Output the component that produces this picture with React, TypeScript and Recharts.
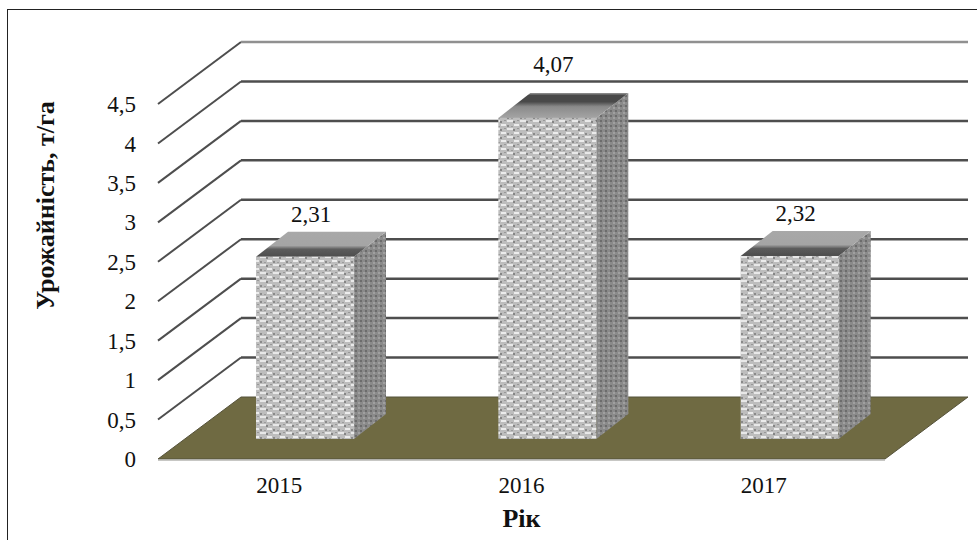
import { BarChart, Bar, XAxis, YAxis, ReferenceLine, LabelList } from "recharts";

const years = ["2015", "2016", "2017"];
const yields = [2.31, 4.07, 2.32];
const yTicks = [0, 0.5, 1, 1.5, 2, 2.5, 3, 3.5, 4, 4.5];

const chartData = years.map((year, i) => ({ year, value: yields[i] }));

const SERIF = "'Liberation Serif', 'Times New Roman', serif";

// depth of the fake 3D room and of the bars
const WALL_DX = 83;
const WALL_DY = 62;
const BAR_DX = 32;
const BAR_DY = 25;
const BAR_SHIFT_X = 26;
const BAR_SHIFT_Y = 20;

const comma = (v: number) => String(v).replace(".", ",");

function GridLine(props: any) {
  const { x1, y1, x2, stroke } = props;
  const bx = x1 + WALL_DX;
  const by = y1 - WALL_DY;
  return (
    <g>
      <line x1={x1} y1={y1} x2={bx} y2={by} stroke="#4e4e4e" strokeWidth={2} />
      <line x1={bx} y1={by} x2={x2 + WALL_DX} y2={by} stroke={stroke} strokeWidth={2.5} />
    </g>
  );
}

function Floor(props: any) {
  const { x1, y1, x2 } = props;
  const by = y1 - WALL_DY;
  return (
    <g>
      <polygon
        points={`${x1},${y1} ${x1 + WALL_DX},${by} ${x2 + WALL_DX},${by} ${x2},${y1}`}
        fill="#6f6a42"
        stroke="#55523a"
        strokeWidth={1}
      />
      <line x1={x1} y1={y1 + 1} x2={x2} y2={y1 + 1} stroke="#b5b5b0" strokeWidth={1.5} />
    </g>
  );
}

function Bar3D(props: any) {
  const { x, y, width, height, index } = props;
  const l = x + BAR_SHIFT_X;
  const r = l + width;
  const t = y - BAR_SHIFT_Y;
  const b = t + height;
  const topFill = index === 1 ? "url(#topDarkBack)" : "url(#topDarkFront)";
  return (
    <g filter="url(#soften)">
      <polygon
        points={`${r},${t} ${r + BAR_DX},${t - BAR_DY} ${r + BAR_DX},${b - BAR_DY} ${r},${b}`}
        fill="url(#sideWeave)"
      />
      <polygon
        points={`${l},${t} ${l + BAR_DX},${t - BAR_DY} ${r + BAR_DX},${t - BAR_DY} ${r},${t}`}
        fill={topFill}
      />
      <rect x={l} y={t} width={width} height={height} fill="url(#frontWeave)" />
    </g>
  );
}

function ValueLabel(props: any) {
  const { x, y, width, value, index } = props;
  const lift = index === 1 ? 66 : 55;
  return (
    <text
      x={x + width / 2 + 32}
      y={y - lift}
      textAnchor="middle"
      fontFamily={SERIF}
      fontSize={23}
      fill="#111"
    >
      {comma(value)}
    </text>
  );
}

export default function App() {
  return (
    <div style={{ position: "absolute", left: 0, top: 0, width: 977, height: 540, background: "#fff", overflow: "hidden" }}>
      <div
        style={{
          position: "absolute",
          left: 7,
          top: 9,
          right: 0,
          bottom: 0,
          borderLeft: "1.5px solid #222",
          borderTop: "1.5px solid #222",
        }}
      />
      <div style={{ position: "absolute", left: 0, top: 0 }}>
        <BarChart
          width={977}
          height={540}
          data={chartData}
          margin={{ top: 104, right: 92, bottom: 0, left: 0 }}
        >
          <defs>
            <filter id="soften" x="-5%" y="-5%" width="110%" height="110%">
              <feGaussianBlur stdDeviation="0.7" />
            </filter>
            <pattern id="frontWeave" width="13" height="8" patternUnits="userSpaceOnUse">
              <rect width="13" height="8" fill="#bdbdbd" />
              <rect x="0" y="0" width="6" height="2" fill="#e8e8e8" />
              <rect x="7" y="4" width="5" height="2" fill="#ececec" />
              <rect x="6" y="1" width="2" height="2" fill="#858585" />
              <rect x="0" y="5" width="2" height="2" fill="#8a8a8a" />
              <rect x="10" y="0" width="2" height="1" fill="#989898" />
              <rect x="4" y="6" width="2" height="1" fill="#9c9c9c" />
            </pattern>
            <pattern id="sideWeave" width="5" height="5" patternUnits="userSpaceOnUse">
              <rect width="5" height="5" fill="#8a8a8a" />
              <rect x="0" y="0" width="2" height="2" fill="#6c6c6c" />
              <rect x="3" y="2" width="2" height="2" fill="#a0a0a0" />
            </pattern>
            <linearGradient id="topDarkFront" x1="0" y1="1" x2="0" y2="0">
              <stop offset="0" stopColor="#4c4c4c" />
              <stop offset="0.3" stopColor="#5c5c5c" />
              <stop offset="0.45" stopColor="#a5a5a5" />
              <stop offset="1" stopColor="#a8a8a8" />
            </linearGradient>
            <linearGradient id="topDarkBack" x1="0" y1="1" x2="0" y2="0">
              <stop offset="0" stopColor="#a4a4a4" />
              <stop offset="0.45" stopColor="#8a8a8a" />
              <stop offset="0.65" stopColor="#484848" />
              <stop offset="0.9" stopColor="#4a4a4a" />
              <stop offset="1" stopColor="#9a9a9a" />
            </linearGradient>
          </defs>
          <XAxis
            dataKey="year"
            axisLine={false}
            tickLine={false}
            height={81}
            tickMargin={12}
            tick={{ fontFamily: SERIF, fontSize: 23, fill: "#111" }}
            label={{
              value: "Рік",
              position: "insideBottom",
              offset: 13,
              style: { fontFamily: SERIF, fontSize: 26, fontWeight: 700, fill: "#111" },
            }}
          />
          <YAxis
            domain={[0, 4.5]}
            ticks={yTicks}
            interval={0}
            width={158}
            axisLine={false}
            tickLine={false}
            tickMargin={16}
            tickFormatter={comma}
            tick={{ fontFamily: SERIF, fontSize: 23, fill: "#111" }}
            label={{
              value: "Урожайність, т/га",
              angle: -90,
              position: "insideLeft",
              offset: 45,
              dy: -76,
              style: { fontFamily: SERIF, fontSize: 26, fontWeight: 700, fill: "#111", textAnchor: "middle" },
            }}
          />
          {yTicks.map((t) =>
            t === 0 ? (
              <ReferenceLine key={t} y={t} shape={Floor} zIndex={100} />
            ) : (
              <ReferenceLine
                key={t}
                y={t}
                stroke={t === 4.5 ? "#909090" : "#4e4e4e"}
                shape={GridLine}
                zIndex={100}
              />
            )
          )}
          <Bar dataKey="value" barSize={98} isAnimationActive={false} shape={Bar3D}>
            <LabelList dataKey="value" content={ValueLabel} />
          </Bar>
        </BarChart>
      </div>
    </div>
  );
}
